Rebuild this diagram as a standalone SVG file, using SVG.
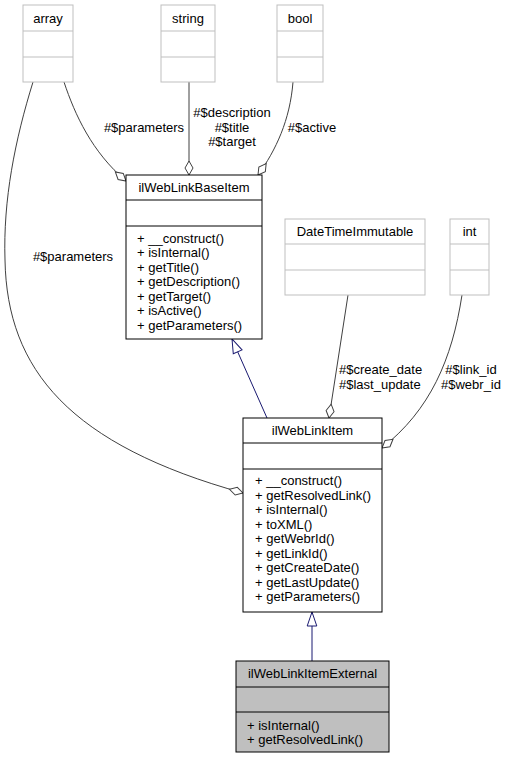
<svg xmlns="http://www.w3.org/2000/svg" width="506" height="759" viewBox="0 0 506 759">
<style>
text{font-family:"Liberation Sans",Arial,sans-serif;font-size:13px;fill:#000}
.c{text-anchor:middle}
.ext{fill:#fff;stroke:#bfbfbf;stroke-width:1}
.cls{fill:#fff;stroke:#000;stroke-width:1}
.cur{fill:#bfbfbf;stroke:#000;stroke-width:1}
.agg{fill:none;stroke:#404040;stroke-width:1;marker-end:url(#dia)}
.inh{fill:none;stroke:#191970;stroke-width:1;marker-end:url(#tri)}
</style>
<defs>
<marker id="dia" markerUnits="userSpaceOnUse" viewBox="-15 -5 16 10" refX="0" refY="0" markerWidth="16" markerHeight="10" orient="auto" overflow="visible">
<path d="M0,0 L-7,-4 L-14,0 L-7,4 Z" fill="#fff" stroke="#404040" stroke-width="1"/>
</marker>
<marker id="tri" markerUnits="userSpaceOnUse" viewBox="-15 -6 16 12" refX="0" refY="0" markerWidth="16" markerHeight="12" orient="auto" overflow="visible">
<path d="M0,0 L-14,-4.8 L-14,4.8 Z" fill="#fff" stroke="#191970" stroke-width="1"/>
</marker>
</defs>
<rect width="506" height="759" fill="#fff"/>
<g id="edges">
<path class="agg" d="M33,82 C15,140 3,200 5,260 C7,370 70,445 243,493"/>
<text class="c" x="73" y="261">#$parameters</text>
<path class="agg" d="M64,82 C75,115 92,152 126,181"/>
<text class="c" x="144" y="132">#$parameters</text>
<path class="agg" d="M189,82 L189,175"/>
<text class="c" x="232" y="117">#$description</text>
<text class="c" x="232" y="131.5">#$title</text>
<text class="c" x="232" y="146">#$target</text>
<path class="agg" d="M293,82 C290,120 276,150 258,175"/>
<text class="c" x="312" y="132">#$active</text>
<path class="inh" d="M267,418 L232,339"/>
<path class="agg" d="M348,295 L329,418"/>
<text x="339" y="374">#$create_date</text>
<text x="339" y="388.5">#$last_update</text>
<path class="agg" d="M462,295 C452,360 430,410 382,448"/>
<text class="c" x="471" y="374">#$link_id</text>
<text class="c" x="471" y="388.5">#$webr_id</text>
<path class="inh" d="M312,661 L312,612"/>
</g>
<g id="array">
<rect class="ext" x="23" y="5" width="50" height="77"/>
<line class="ext" x1="23" y1="31" x2="73" y2="31"/>
<line class="ext" x1="23" y1="57" x2="73" y2="57"/>
<text class="c" x="48" y="22.5">array</text>
</g>
<g id="string">
<rect class="ext" x="161" y="5" width="54" height="77"/>
<line class="ext" x1="161" y1="31" x2="215" y2="31"/>
<line class="ext" x1="161" y1="57" x2="215" y2="57"/>
<text class="c" x="188" y="22.5">string</text>
</g>
<g id="bool">
<rect class="ext" x="277" y="5" width="46" height="77"/>
<line class="ext" x1="277" y1="31" x2="323" y2="31"/>
<line class="ext" x1="277" y1="57" x2="323" y2="57"/>
<text class="c" x="300" y="22.5">bool</text>
</g>
<g id="ilWebLinkBaseItem">
<rect class="cls" x="126" y="175" width="136" height="164"/>
<line class="cls" x1="126" y1="200" x2="262" y2="200"/>
<line class="cls" x1="126" y1="226" x2="262" y2="226"/>
<text class="c" x="194" y="191.5">ilWebLinkBaseItem</text>
<text x="137" y="242.5">+ __construct()</text>
<text x="137" y="257">+ isInternal()</text>
<text x="137" y="271.5">+ getTitle()</text>
<text x="137" y="286">+ getDescription()</text>
<text x="137" y="300.5">+ getTarget()</text>
<text x="137" y="315">+ isActive()</text>
<text x="137" y="329.5">+ getParameters()</text>
</g>
<g id="DateTimeImmutable">
<rect class="ext" x="285" y="219" width="140" height="76"/>
<line class="ext" x1="285" y1="244" x2="425" y2="244"/>
<line class="ext" x1="285" y1="270" x2="425" y2="270"/>
<text class="c" x="355" y="235.5">DateTimeImmutable</text>
</g>
<g id="int">
<rect class="ext" x="450" y="219" width="39" height="76"/>
<line class="ext" x1="450" y1="244" x2="489" y2="244"/>
<line class="ext" x1="450" y1="270" x2="489" y2="270"/>
<text class="c" x="469.5" y="235.5">int</text>
</g>
<g id="ilWebLinkItem">
<rect class="cls" x="243" y="418" width="139" height="194"/>
<line class="cls" x1="243" y1="443" x2="382" y2="443"/>
<line class="cls" x1="243" y1="469" x2="382" y2="469"/>
<text class="c" x="312.5" y="434.5">ilWebLinkItem</text>
<text x="255" y="485">+ __construct()</text>
<text x="255" y="499.5">+ getResolvedLink()</text>
<text x="255" y="514">+ isInternal()</text>
<text x="255" y="528.5">+ toXML()</text>
<text x="255" y="543">+ getWebrId()</text>
<text x="255" y="557.5">+ getLinkId()</text>
<text x="255" y="572">+ getCreateDate()</text>
<text x="255" y="586.5">+ getLastUpdate()</text>
<text x="255" y="601">+ getParameters()</text>
</g>
<g id="ilWebLinkItemExternal">
<rect class="cur" x="236" y="661" width="153" height="91"/>
<line class="cur" x1="236" y1="687" x2="389" y2="687"/>
<line class="cur" x1="236" y1="712" x2="389" y2="712"/>
<text class="c" x="312.5" y="678">ilWebLinkItemExternal</text>
<text x="247" y="729.5">+ isInternal()</text>
<text x="247" y="744">+ getResolvedLink()</text>
</g>
</svg>
